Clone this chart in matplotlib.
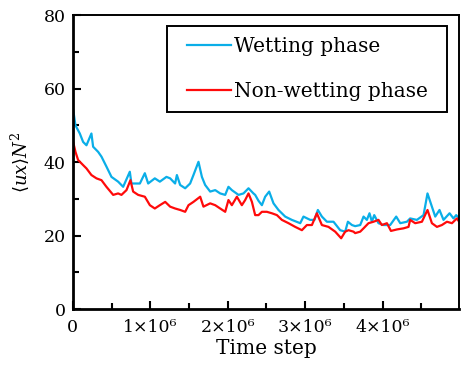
import matplotlib
matplotlib.use("Agg")
import matplotlib.pyplot as plt
from matplotlib.ticker import MultipleLocator

######################################################################
# Data (time step in millions, <ux>N^2)
t_wet = [0.0, 0.004, 0.034, 0.090, 0.133, 0.176, 0.240, 0.262, 0.327, 0.370,
         0.434, 0.499, 0.585, 0.650, 0.736, 0.757, 0.866, 0.930, 0.973, 1.059,
         1.124, 1.209, 1.257, 1.321, 1.344, 1.386, 1.451, 1.515, 1.558, 1.623,
         1.667, 1.709, 1.774, 1.839, 1.903, 1.968, 2.010, 2.054, 2.140, 2.204,
         2.269, 2.333, 2.355, 2.398, 2.442, 2.484, 2.536, 2.592, 2.656, 2.743,
         2.829, 2.937, 2.979, 3.066, 3.121, 3.165, 3.217, 3.282, 3.367, 3.453,
         3.518, 3.553, 3.605, 3.647, 3.712, 3.755, 3.798, 3.832, 3.863, 3.893,
         3.948, 4.013, 4.099, 4.177, 4.229, 4.315, 4.357, 4.444, 4.530, 4.581,
         4.638, 4.681, 4.736, 4.788, 4.866, 4.917, 4.952, 4.990]
wetting = [42.0, 54.3, 50.0, 47.8, 45.5, 44.6, 47.8, 44.2, 42.8, 41.5,
           38.8, 36.0, 34.7, 33.3, 37.4, 34.2, 34.2, 37.0, 34.2, 35.6,
           34.7, 36.0, 35.6, 34.2, 36.5, 33.8, 32.9, 34.2, 36.5, 40.1,
           36.0, 33.8, 32.0, 32.4, 31.5, 31.1, 33.3, 32.4, 31.1, 31.5,
           32.9, 31.5, 31.1, 29.5, 28.3, 30.6, 32.0, 28.8, 27.0, 25.2,
           24.3, 23.4, 25.2, 24.3, 24.3, 27.0, 25.2, 23.8, 23.8, 21.5,
           21.1, 23.8, 22.9, 22.6, 22.9, 25.2, 24.3, 26.1, 23.8, 25.6,
           23.4, 22.9, 22.9, 25.2, 23.4, 23.8, 24.7, 24.3, 25.6, 31.5,
           27.9, 25.2, 27.0, 24.3, 26.1, 24.7, 25.6, 24.7]

t_nonwet = [0.0, 0.004, 0.034, 0.068, 0.133, 0.176, 0.240, 0.305, 0.370, 0.434,
            0.521, 0.585, 0.628, 0.693, 0.744, 0.779, 0.844, 0.930, 0.995, 1.059,
            1.124, 1.193, 1.257, 1.321, 1.386, 1.451, 1.494, 1.558, 1.645, 1.687,
            1.774, 1.839, 1.903, 1.968, 2.010, 2.054, 2.119, 2.183, 2.226, 2.269,
            2.313, 2.355, 2.398, 2.442, 2.506, 2.571, 2.636, 2.700, 2.786, 2.872,
            2.959, 3.023, 3.088, 3.152, 3.217, 3.302, 3.389, 3.466, 3.518, 3.561,
            3.625, 3.647, 3.712, 3.755, 3.819, 3.884, 3.948, 3.992, 4.057, 4.109,
            4.186, 4.271, 4.336, 4.357, 4.422, 4.509, 4.581, 4.638, 4.703, 4.767,
            4.832, 4.897, 4.961, 4.990]
nonwetting = [29.7, 45.5, 42.8, 40.6, 39.2, 38.3, 36.5, 35.6, 35.1, 33.3,
              31.1, 31.5, 31.1, 32.4, 35.1, 32.0, 31.1, 30.6, 28.3, 27.4,
              28.3, 29.2, 27.9, 27.4, 27.0, 26.5, 28.3, 29.2, 30.6, 27.9,
              28.8, 28.3, 27.4, 26.5, 29.7, 28.3, 30.6, 28.3, 29.7, 31.5,
              29.2, 25.6, 25.6, 26.5, 26.5, 26.1, 25.6, 24.3, 23.4, 22.4,
              21.5, 22.9, 22.9, 26.1, 22.9, 22.4, 21.1, 19.3, 21.1, 21.5,
              21.1, 20.7, 21.1, 22.0, 23.4, 23.8, 24.3, 22.9, 23.4, 21.3,
              21.7, 22.0, 22.4, 24.3, 23.4, 23.8, 27.0, 23.4, 22.4, 22.9,
              23.8, 23.4, 24.7, 23.8]

x_ticks = [0, 1e6, 2e6, 3e6, 4e6]
tick_labels = ["0", "1×10⁶", "2×10⁶", "3×10⁶", "4×10⁶"]

######################################################################
# Figure
plt.rcParams['font.family'] = ['DejaVu Serif']
plt.rcParams['mathtext.fontset'] = 'dejavuserif'

fig = plt.figure(figsize=(4.61, 3.69), dpi=100)
ax = fig.add_axes([0.158, 0.162, 0.838, 0.797])

ax.plot([t * 1e6 for t in t_wet], wetting, color='#0aaee8', lw=1.6,
        label='Wetting phase')
ax.plot([t * 1e6 for t in t_nonwet], nonwetting, color='#ff0a0a', lw=1.6,
        label='Non-wetting phase')

ax.set_xlim(0, 4.99e6)
ax.set_ylim(0, 80)
ax.set_xticks(x_ticks)
ax.set_xticklabels(tick_labels)
ax.xaxis.set_minor_locator(MultipleLocator(0.5e6))
ax.yaxis.set_major_locator(MultipleLocator(20))
ax.yaxis.set_minor_locator(MultipleLocator(10))

ax.tick_params(which='both', direction='in', top=False, right=False,
               labelsize=12.5, width=1.5)
ax.tick_params(axis='x', pad=7)
ax.tick_params(axis='y', pad=5)
ax.tick_params(which='major', length=6)
ax.tick_params(which='minor', length=4)

for side in ['left', 'bottom']:
    ax.spines[side].set_linewidth(2.0)
for side in ['top', 'right']:
    ax.spines[side].set_linewidth(1.4)

ax.set_xlabel('Time step', fontsize=14.5, labelpad=2)
ax.set_ylabel(r'$\langle ux\rangle N^2$', fontsize=13, labelpad=9)

######################################################################
# Legend: wider side padding than top/bottom padding
leg = ax.legend(loc='upper right', bbox_to_anchor=(0.9475, 0.962),
                borderaxespad=0, fontsize=14.5, handlelength=2.2,
                handletextpad=0.15, labelspacing=1.27, borderpad=0.55,
                fancybox=False, framealpha=1, edgecolor='black')
frame = leg.get_frame()
frame.set_linewidth(1.4)
frame.set_boxstyle('square', pad=0.42)
frame.set_mutation_aspect(0.001)

fig.savefig('out.png', dpi=100)
